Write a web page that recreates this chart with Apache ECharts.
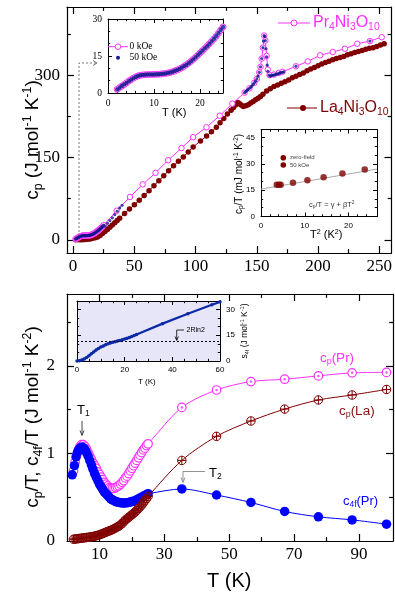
<!DOCTYPE html>
<html>
<head>
<meta charset="utf-8">
<script src="https://cdn.jsdelivr.net/npm/echarts@6/dist/echarts.min.js"></script>
<style>
html, body { margin: 0; padding: 0; background: #fff; }
#chart { width: 395px; height: 592px; }
</style>
</head>
<body>
<div id="chart"></div>
<script>
// ---------- data ----------
// Pr4Ni3O10, low-T part (top panel and upper inset), cp in J/mol K
const prLowT = [2, 2.5, 3, 3.5, 4, 4.5, 5, 5.5, 6, 6.5, 7, 7.5, 8, 8.5, 9, 9.5, 10, 10.5, 11, 11.5, 12, 12.5, 13, 13.5, 14, 14.5, 15, 15.5, 16, 16.5, 17, 17.5, 18, 18.5, 19, 19.5, 20, 20.5, 21, 21.5, 22, 22.5, 23, 23.5, 24, 24.5, 25];
const prLowCp0 = [1.5, 2.2, 2.8, 3.4, 4.1, 4.8, 5.4, 6.0, 6.5, 6.9, 7.2, 7.3, 7.4, 7.45, 7.5, 7.5, 7.55, 7.6, 7.65, 7.7, 7.8, 7.95, 8.1, 8.3, 8.6, 8.9, 9.3, 9.7, 10.2, 10.8, 11.4, 12.1, 12.8, 13.6, 14.4, 15.3, 16.2, 17.1, 18.0, 18.9, 19.9, 20.9, 21.9, 23.0, 24.2, 25.5, 26.8];
const prLowCp50 = [1.4, 2.1, 2.8, 3.4, 4.1, 4.8, 5.4, 6.0, 6.5, 6.9, 7.2, 7.3, 7.4, 7.45, 7.5, 7.5, 7.55, 7.6, 7.65, 7.7, 7.8, 7.95, 8.1, 8.3, 8.6, 8.9, 9.3, 9.7, 10.2, 10.8, 11.4, 12.1, 12.8, 13.6, 14.4, 15.3, 16.2, 17.1, 18.0, 18.9, 19.9, 20.9, 21.9, 23.0, 24.2, 25.5, 26.8];

// Pr4Ni3O10 above 25 K, 0 kOe
const prT0 = [35.6, 46.4, 56.8, 67.3, 77.6, 88.5, 98, 108.9, 119.7, 130, 140, 144, 148, 150, 152, 153, 154, 155, 156, 157, 158, 159, 160.4, 164, 168, 171, 182, 191.6, 201.7, 212, 222, 232, 242.4, 252];
const prCp0 = [53, 78, 101, 122, 145, 167, 187, 205, 226, 248, 268, 276, 286, 293, 305, 315, 330, 350, 372, 363, 335, 310, 300, 301, 304, 306, 316, 325, 336, 342, 348, 357, 362, 369];

// Pr4Ni3O10 above 25 K, 50 kOe
const prT50 = [26, 28, 30, 32, 34, 36, 38, 40, 140, 141, 142, 143, 144, 145, 146, 147, 148, 149, 150, 151, 152, 153, 154, 155, 155.5, 156, 156.5, 157, 157.5, 158, 158.5, 159, 160, 161, 162, 163, 164, 165, 166, 167, 168, 169, 170, 171, 172, 182, 242.4];
const prCp50 = [25, 30, 35, 40, 46, 52, 58, 63, 268, 270, 272, 274, 276, 278, 280, 283, 286, 289, 293, 298, 305, 315, 330, 350, 362, 372, 370, 363, 348, 333, 318, 307, 300, 298, 299, 300, 300, 301, 302, 302, 303, 304, 305, 305, 306, 316, 362];

// La4Ni3O10
const laT = [2, 4, 6, 8, 10, 12, 14, 16, 18, 20, 22, 24, 26, 28, 30, 32, 34, 36, 38, 42, 46, 50, 54, 58, 62, 66, 70, 74, 78, 82, 86, 90, 94, 98, 104, 109, 113, 117, 120, 123, 126, 129, 131, 133, 134.5, 136, 137.5, 139, 141, 143, 145, 147, 149, 151, 153, 155, 158, 161, 164, 167, 170, 173, 176, 179, 182, 185, 188, 191, 194, 197, 200, 203, 206, 209, 212, 215, 218, 221, 224, 227, 230, 233, 236, 239, 242, 245, 248, 251, 254];
const laCp = [0.04, 0.1, 0.2, 0.35, 0.7, 1.1, 1.7, 2.7, 3.9, 5.2, 7.9, 11.5, 15, 19, 23, 27, 31, 35, 39.5, 48, 56, 64, 72, 80.5, 89.5, 98.5, 107.5, 116.5, 126, 135, 143, 151, 160, 169, 180, 189, 197, 205, 213, 221, 229, 236, 241, 246, 250, 248, 245, 243, 244, 246, 249, 252, 255, 258, 261, 265, 271, 275, 279, 282, 285, 288, 291, 295, 298, 301, 304, 308, 311, 314, 317, 320, 323, 325, 328, 330, 332, 334, 337, 339, 341, 343, 345, 347, 349, 350, 352, 355, 357];

// lower right inset: cp/T vs T^2 (mJ/mol K^2)
const t2 = [3.6, 4.1, 4.5, 7.3, 10.6, 14.3, 18.6, 23.7];
const cpOverT = [18.1, 18.1, 18.1, 19.2, 20.6, 22.4, 24.4, 26.8];
const GAMMA = 15.6, BETA = 0.43;

// bottom panel, cp/T and c4f/T (J/mol K^2)
const bLowT = [2, 2.5, 3, 3.5, 4, 4.5, 5, 5.5, 6, 6.5, 7, 7.5, 8, 8.5, 9, 9.5, 10, 10.5, 11, 11.5, 12, 12.5, 13, 13.5, 14, 14.5, 15, 15.5, 16, 16.5, 17, 17.5, 18, 18.5, 19, 19.5, 20, 20.5, 21, 21.5, 22, 22.5, 23, 23.5, 24, 24.5, 25];
const prLowCpT = [0.80, 0.90, 0.98, 1.04, 1.08, 1.10, 1.10, 1.08, 1.05, 1.01, 0.97, 0.93, 0.89, 0.86, 0.83, 0.79, 0.76, 0.73, 0.70, 0.67, 0.65, 0.63, 0.61, 0.60, 0.60, 0.60, 0.61, 0.62, 0.63, 0.65, 0.67, 0.69, 0.72, 0.74, 0.77, 0.80, 0.83, 0.86, 0.89, 0.92, 0.95, 0.98, 1.01, 1.04, 1.06, 1.09, 1.11];
const laLowCpT = [0.020, 0.022, 0.025, 0.027, 0.030, 0.032, 0.035, 0.037, 0.040, 0.042, 0.045, 0.048, 0.051, 0.055, 0.060, 0.065, 0.070, 0.077, 0.085, 0.092, 0.100, 0.108, 0.115, 0.122, 0.130, 0.140, 0.150, 0.160, 0.170, 0.185, 0.200, 0.220, 0.240, 0.255, 0.270, 0.285, 0.300, 0.315, 0.330, 0.350, 0.370, 0.390, 0.410, 0.435, 0.460, 0.485, 0.510];
const c4fLowT = [1.6, 2.3, 2.8, 3.2, 3.6, 4, 4.4, 4.8, 5.2, 5.6, 6, 6.5, 7, 7.5, 8, 8.5, 9, 9.5, 10, 10.5, 11, 11.5, 12, 12.5, 13, 13.5, 14, 14.5, 15, 15.5, 16, 16.5, 17, 17.5, 18, 18.5, 19, 19.5, 20, 20.5, 21, 21.5, 22, 22.5, 23, 23.5, 24, 24.5, 25];
const c4fLow = [0.755, 0.86, 0.96, 1.01, 1.04, 1.06, 1.07, 1.07, 1.06, 1.04, 1.01, 0.97, 0.92, 0.87, 0.82, 0.77, 0.73, 0.69, 0.65, 0.62, 0.59, 0.56, 0.54, 0.52, 0.50, 0.48, 0.47, 0.46, 0.45, 0.445, 0.44, 0.437, 0.435, 0.435, 0.435, 0.437, 0.44, 0.445, 0.45, 0.455, 0.46, 0.47, 0.48, 0.49, 0.50, 0.51, 0.52, 0.53, 0.54];
const bT = [35.4, 46.1, 56.7, 67.1, 77.5, 87.9, 98.5];
const prCpT = [1.525, 1.724, 1.82, 1.847, 1.885, 1.92, 1.925];
const laCpT = [0.92, 1.195, 1.37, 1.506, 1.61, 1.667, 1.73];
const c4fT = [0.594, 0.525, 0.44, 0.337, 0.276, 0.241, 0.192];

// bottom inset: 4f entropy (J/mol K)
const s4fT = [0, 1, 2, 3, 4, 5, 6, 7, 8, 9, 10, 11, 12, 13, 14, 15, 16, 17, 18, 19, 20, 21, 22, 23, 24, 25, 35.9, 46.5, 56.6, 60];
const s4f = [0, 0.2, 0.6, 1.2, 2.0, 3.0, 4.2, 5.3, 6.4, 7.3, 8.1, 8.8, 9.5, 10.0, 10.5, 10.9, 11.3, 11.7, 12.0, 12.4, 12.8, 13.2, 13.7, 14.3, 14.9, 15.5, 21.8, 27.6, 32.8, 34.5];
const R2LN2 = 2 * 8.314 * Math.log(2);

// ---------- style ----------
const MAG = '#ff30ff', DRED = '#800000', BLUE = '#0000ff', NAVY = '#15158f', SBLUE = '#0d2aa6';
const SANS = 'Liberation Sans';
const SERIF = 'Liberation Serif';
const OPLUS = 'path://M10,0A10,10,0,1,1,-10,0A10,10,0,1,1,10,0ZM-10,0L10,0M0,-10L0,10';

const pairs = (xs, ys) => xs.map((x, i) => [x, ys[i]]);

const xAxis = [], yAxis = [];

function mkAxis(grid, pos, min, max, ticks, len, label, lw, showLine) {
  return {
    type: 'value', gridIndex: grid, position: pos, min: min, max: max, silent: true,
    axisLine: { show: showLine, onZero: false, lineStyle: { color: '#000', width: lw } },
    axisTick: ticks.length
      ? { show: true, inside: true, length: len, customValues: ticks, lineStyle: { color: '#000', width: lw } }
      : { show: false },
    axisLabel: label || { show: false },
    splitLine: { show: false }
  };
}

// draws a boxed frame with inward ticks on all four sides
function frame(grid, o) {
  const lab = (vals, margin) => ({
    show: true, customValues: vals, margin: margin,
    fontFamily: o.font, fontSize: o.size, color: '#000'
  });
  const xi = xAxis.length;
  xAxis.push(mkAxis(grid, 'bottom', o.x.min, o.x.max, o.x.major, o.len, lab(o.x.labels, o.x.margin), o.lw, true));
  xAxis.push(mkAxis(grid, 'bottom', o.x.min, o.x.max, o.x.minor, o.len * 0.55, null, o.lw, false));
  xAxis.push(mkAxis(grid, 'top', o.x.min, o.x.max, o.x.major, o.len, null, o.lw, true));
  xAxis.push(mkAxis(grid, 'top', o.x.min, o.x.max, o.x.minor, o.len * 0.55, null, o.lw, false));
  const yi = yAxis.length;
  const ySide = o.y.side || 'left';
  const other = ySide === 'left' ? 'right' : 'left';
  yAxis.push(mkAxis(grid, ySide, o.y.min, o.y.max, o.y.major, o.len, lab(o.y.labels, o.y.margin), o.lw, true));
  yAxis.push(mkAxis(grid, ySide, o.y.min, o.y.max, o.y.minor, o.len * 0.55, null, o.lw, false));
  yAxis.push(mkAxis(grid, other, o.y.min, o.y.max, o.y.major, o.len, null, o.lw, true));
  yAxis.push(mkAxis(grid, other, o.y.min, o.y.max, o.y.minor, o.len * 0.55, null, o.lw, false));
  return { x: xi, y: yi };
}

const grid = [
  { left: 67, top: 7, width: 326, height: 246 },                 // top main
  { left: 108, top: 19, width: 115, height: 74 },                // inset cp low T
  { left: 261, top: 129.5, width: 116, height: 87 },             // inset cp/T vs T^2
  { left: 67, top: 294, width: 326, height: 247 },               // bottom main
  { left: 77, top: 301, width: 143, height: 60, show: true, backgroundColor: '#e6e6f8', borderWidth: 0 } // inset s4f
];

const gTop = frame(0, {
  font: SERIF, size: 17, len: 7, lw: 1.2,
  x: { min: -5, max: 260, major: [0, 50, 100, 150, 200, 250], minor: [25, 75, 125, 175, 225], labels: [0, 50, 100, 150, 200, 250], margin: 5 },
  y: { min: -24, max: 424, major: [0, 150, 300], minor: [75, 225, 375], labels: [0, 150, 300], margin: 7 }
});
const gIn1 = frame(1, {
  font: SERIF, size: 9.5, len: 4, lw: 1,
  x: { min: 0, max: 25, major: [10, 20], minor: [2, 4, 6, 8, 12, 14, 16, 18, 22, 24], labels: [0, 10, 20], margin: 5 },
  y: { min: 0, max: 30, major: [15], minor: [5, 10, 20, 25], labels: [0, 15, 30], margin: 6 }
});
const gIn2 = frame(2, {
  font: SANS, size: 8, len: 4, lw: 1,
  x: { min: 0, max: 26.5, major: [10, 20], minor: [2, 4, 6, 8, 12, 14, 16, 18, 22, 24], labels: [0, 10, 20], margin: 5 },
  y: { min: 0, max: 49.5, major: [15, 30, 45], minor: [5, 10, 20, 25, 35, 40], labels: [0, 15, 30, 45], margin: 6 }
});
const gBot = frame(3, {
  font: SERIF, size: 17, len: 7, lw: 1.2,
  x: { min: 0, max: 100.5, major: [10, 30, 50, 70, 90], minor: [20, 40, 60, 80], labels: [10, 30, 50, 70, 90], margin: 5 },
  y: { min: 0, max: 2.82, major: [1, 2], minor: [0.5, 1.5, 2.5], labels: [0, 1, 2], margin: 12 }
});
const gIn3 = frame(4, {
  font: SANS, size: 8, len: 4, lw: 1,
  x: { min: 0, max: 60, major: [20, 40], minor: [5, 10, 15, 25, 30, 35, 45, 50, 55], labels: [0, 20, 40, 60], margin: 5 },
  y: { min: 0, max: 35, major: [15, 30], minor: [5, 10, 20, 25], labels: [0, 15, 30], margin: 6, side: 'right' }
});

const series = [
  // top main
  { type: 'line', xAxisIndex: gTop.x, yAxisIndex: gTop.y, data: pairs(laT, laCp), symbol: 'circle', symbolSize: 5.5,
    itemStyle: { color: DRED }, lineStyle: { color: DRED, width: 1 }, z: 2 },
  { type: 'line', xAxisIndex: gTop.x, yAxisIndex: gTop.y, data: pairs(prLowT.concat(prT0), prLowCp0.concat(prCp0)),
    symbol: 'circle', symbolSize: 5.5, itemStyle: { color: '#fff', borderColor: MAG, borderWidth: 1 },
    lineStyle: { color: MAG, width: 1 }, z: 3 },
  { type: 'scatter', xAxisIndex: gTop.x, yAxisIndex: gTop.y, data: pairs(prLowT.concat(prT50), prLowCp50.concat(prCp50)),
    symbolSize: 3.2, itemStyle: { color: NAVY }, z: 4 },

  // inset: low-T cp
  { type: 'line', xAxisIndex: gIn1.x, yAxisIndex: gIn1.y, data: pairs(prLowT, prLowCp0), symbol: 'circle', symbolSize: 6,
    itemStyle: { color: '#fff', borderColor: MAG, borderWidth: 1 }, lineStyle: { color: MAG, width: 1 }, z: 3 },
  { type: 'scatter', xAxisIndex: gIn1.x, yAxisIndex: gIn1.y, data: pairs(prLowT, prLowCp50), symbolSize: 4.5,
    itemStyle: { color: NAVY }, z: 4 },

  // inset: cp/T vs T^2
  { type: 'line', xAxisIndex: gIn2.x, yAxisIndex: gIn2.y, data: [[0, GAMMA], [26.5, GAMMA + BETA * 26.5]], symbol: 'none',
    lineStyle: { color: '#aaaaaa', width: 1 }, z: 2 },
  { type: 'scatter', xAxisIndex: gIn2.x, yAxisIndex: gIn2.y, data: pairs(t2, cpOverT), symbolSize: 6.5,
    itemStyle: { color: DRED }, z: 3 },

  // bottom main
  { type: 'line', xAxisIndex: gBot.x, yAxisIndex: gBot.y, data: pairs(bLowT.concat(bT), prLowCpT.concat(prCpT)), smooth: 0.3,
    symbol: 'circle', symbolSize: 8.5, itemStyle: { color: '#fff', borderColor: MAG, borderWidth: 1.2 },
    lineStyle: { color: MAG, width: 1 }, z: 2 },
  { type: 'scatter', xAxisIndex: gBot.x, yAxisIndex: gBot.y, data: pairs(bT, prCpT), symbolSize: 2.5,
    itemStyle: { color: MAG }, z: 3 },
  { type: 'line', xAxisIndex: gBot.x, yAxisIndex: gBot.y, data: pairs(c4fLowT.concat(bT), c4fLow.concat(c4fT)), smooth: 0.3,
    symbol: 'circle', symbolSize: 9.5, itemStyle: { color: BLUE }, lineStyle: { color: BLUE, width: 1 }, z: 4 },
  { type: 'line', xAxisIndex: gBot.x, yAxisIndex: gBot.y, data: pairs(bLowT.concat(bT), laLowCpT.concat(laCpT)), smooth: 0.3,
    symbol: OPLUS, symbolSize: 8.5, itemStyle: { color: 'rgba(0,0,0,0)', borderColor: DRED, borderWidth: 1 },
    lineStyle: { color: DRED, width: 1 }, z: 5 },

  // inset: entropy
  { type: 'line', xAxisIndex: gIn3.x, yAxisIndex: gIn3.y, data: pairs(s4fT, s4f), symbol: 'circle', symbolSize: 3.5,
    itemStyle: { color: SBLUE }, lineStyle: { color: SBLUE, width: 2.2 }, z: 3,
    markLine: { silent: true, symbol: 'none', label: { show: false },
      lineStyle: { type: [2, 2], color: '#000', width: 1 }, data: [{ yAxis: R2LN2 }] } }
];

// rich-text styles with sub/superscripts
function rt(size, color, family) {
  return {
    n: { fontSize: size, fill: color, fontFamily: family, lineHeight: size * 1.2, verticalAlign: 'middle' },
    b: { fontSize: size * 0.65, fill: color, fontFamily: family, lineHeight: size * 0.4, verticalAlign: 'bottom' },
    p: { fontSize: size * 0.65, fill: color, fontFamily: family, lineHeight: size * 0.7, verticalAlign: 'top' }
  };
}
function label(x, y, text, size, color, family, extra) {
  return Object.assign({
    type: 'text', x: x, y: y, silent: true, z: 50,
    style: { text: text, rich: rt(size, color, family), align: 'left', verticalAlign: 'middle' }
  }, extra || {});
}
function vlabel(x, y, text, size, color, family) {
  return {
    type: 'text', x: x, y: y, rotation: Math.PI / 2, silent: true, z: 50,
    style: { text: text, rich: rt(size, color, family), align: 'center', verticalAlign: 'middle' }
  };
}
const line = (pts, color, w, dash) => ({ type: 'polyline', silent: true, z: 49, shape: { points: pts },
  style: { stroke: color, lineWidth: w, fill: null, lineDash: dash || null } });

const graphic = [
  // axis titles
  vlabel(33, 140, '{n|c}{b|p}{n| (J mol}{p|-1}{n| K}{p|-1}{n|)}', 19, '#000', SANS),
  vlabel(33, 417, '{n|c}{b|p}{n|/T, c}{b|4f}{n|/T (J mol}{p|-1}{n| K}{p|-2}{n|)}', 19, '#000', SANS),
  label(207, 581, '{n|T (K)}', 20, '#000', SANS),

  // top legend
  line([[278, 23], [310, 23]], MAG, 1),
  { type: 'circle', silent: true, z: 50, shape: { cx: 294, cy: 23, r: 3 }, style: { fill: '#fff', stroke: MAG, lineWidth: 1 } },
  label(313, 23, '{n|Pr}{b|4}{n|Ni}{b|3}{n|O}{b|10}', 16, MAG, SANS),
  line([[287, 108], [317, 108]], DRED, 1),
  { type: 'circle', silent: true, z: 50, shape: { cx: 303, cy: 108, r: 3 }, style: { fill: DRED } },
  label(320, 108, '{n|La}{b|4}{n|Ni}{b|3}{n|O}{b|10}', 16, DRED, SANS),

  // dotted pointer to inset
  line([[79, 236], [79, 63], [96, 63]], '#555', 0.8, [2, 2]),
  line([[93, 60.5], [97, 63], [93, 65.5]], '#555', 0.8),

  // inset 1 legend and title
  line([[108, 46.7], [128, 46.7]], MAG, 1),
  { type: 'circle', silent: true, z: 50, shape: { cx: 118, cy: 46.7, r: 2.8 }, style: { fill: '#fff', stroke: MAG, lineWidth: 1 } },
  label(129.5, 46.7, '{n|0 kOe}', 9.5, '#000', SERIF),
  { type: 'circle', silent: true, z: 50, shape: { cx: 118, cy: 57.7, r: 2 }, style: { fill: NAVY } },
  label(129.5, 57.7, '{n|50 kOe}', 9.5, '#000', SERIF),
  label(162, 113, '{n|T (K)}', 11, '#000', SANS),

  // inset 2 labels
  vlabel(239, 174, '{n|c}{b|p}{n|/T (mJ mol}{p|-1}{n| K}{p|-2}{n|)}', 10, '#000', SANS),
  label(310, 235, '{n|T}{p|2}{n| (K}{p|2}{n|)}', 11, '#000', SANS),
  { type: 'circle', silent: true, z: 50, shape: { cx: 283.3, cy: 157.7, r: 2.8 }, style: { fill: DRED } },
  label(290, 157.7, '{n|zero-field}', 6, '#444', SANS),
  { type: 'circle', silent: true, z: 50, shape: { cx: 283.3, cy: 165, r: 2.8 }, style: { fill: DRED } },
  label(290, 165, '{n|50 kOe}', 6, '#444', SANS),
  label(309, 204.5, '{n|c}{b|p}{n|/T = γ + βT}{p|2}', 7.5, '#333', SANS),

  // inset 3 labels
  vlabel(245, 331, '{n|s}{b|4f}{n| (J mol}{p|-1}{n| K}{p|-1}{n|)}', 8.5, '#000', SANS),
  label(138, 381.5, '{n|T (K)}', 8, '#000', SANS),
  label(186.5, 330, '{n|2Rln2}', 7, '#000', SANS),
  line([[184, 330], [176.7, 330], [176.7, 340]], '#000', 0.8),
  line([[175, 336.5], [176.7, 340.5], [178.4, 336.5]], '#000', 0.8),

  // bottom annotations
  label(77, 410, '{n|T}{b|1}', 13, '#000', SANS),
  line([[82, 421], [82, 435]], '#333', 0.9),
  line([[80, 430.5], [82, 435.5], [84, 430.5]], '#333', 0.9),
  line([[205, 471.5], [183, 471.5], [183, 482]], '#888', 0.9),
  line([[181, 477.5], [183, 482.5], [185, 477.5]], '#888', 0.9),
  label(209, 473, '{n|T}{b|2}', 13, '#000', SANS),
  label(320, 358, '{n|c}{b|p}{n|(Pr)}', 13.5, MAG, SANS),
  label(339, 411, '{n|c}{b|p}{n|(La)}', 13.5, '#8b1010', SANS),
  label(343, 501, '{n|c}{b|4f}{n|(Pr)}', 13, BLUE, SANS)
];

const chart = echarts.init(document.getElementById('chart'), null, { renderer: 'canvas' });
chart.setOption({
  animation: false,
  backgroundColor: '#fff',
  grid: grid,
  xAxis: xAxis,
  yAxis: yAxis,
  series: series,
  graphic: graphic
});
</script>
</body>
</html>
